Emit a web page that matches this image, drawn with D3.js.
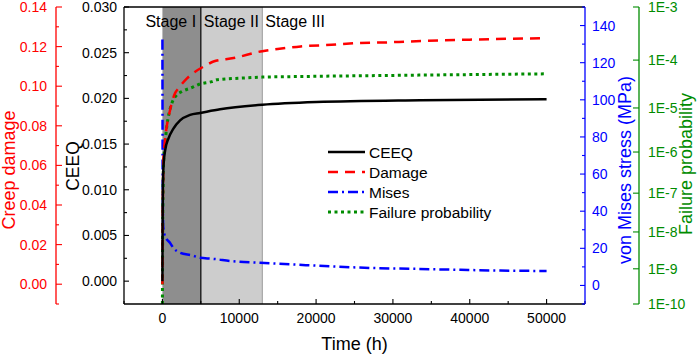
<!DOCTYPE html>
<html><head><meta charset="utf-8">
<script src="https://cdn.jsdelivr.net/npm/d3@7"></script>
<style>body{margin:0;background:#fff}svg{display:block;font-family:"Liberation Sans",Arial,sans-serif}</style>
</head><body><svg id="c" width="699" height="357"></svg>
<script>
// ---- data ----
const ceeqT   = [0, 20, 60, 130, 350, 780, 1430, 2300, 3600, 4900, 7500, 13000, 20000, 33600, 50000];
const ceeqV   = [0, 0.006, 0.0098, 0.0124, 0.0143, 0.0156, 0.0167, 0.0176, 0.0182, 0.0184, 0.0188, 0.0193, 0.0196, 0.0198, 0.0199];
const damT    = [0, 30, 80, 130, 350, 1000, 1650, 2100, 3200, 4000, 5800, 6650, 9260, 13000, 15000, 18000, 22000, 25500, 29000, 32300, 40000, 50000];
const damV    = [0, 0.030, 0.050, 0.063, 0.073, 0.088, 0.0965, 0.099, 0.104, 0.1066, 0.1108, 0.1125, 0.1142, 0.1177, 0.1188, 0.1201, 0.1209, 0.1218, 0.1221, 0.1226, 0.1235, 0.1243];
const misT    = [0, 30, 100, 350, 1000, 1430, 2300, 3830, 4900, 6440, 9200, 12700, 17000, 22300, 28000, 33200, 38800, 44000, 50000];
const misV    = [132.5, 60, 32, 26.4, 22.9, 20.2, 17.6, 16.2, 14.9, 14.4, 13.0, 12.2, 11.3, 10.2, 9.3, 8.9, 8.4, 8.0, 7.8];
const fpT     = [0, 30, 80, 130, 350, 570, 780, 1230, 1880, 2530, 3600, 4900, 6440, 7100, 10150, 13000, 18000, 33600, 50000];
const fpV     = [1e-10, 1e-8, 1e-7, 4.5e-7, 1.6e-6, 3.9e-6, 6.5e-6, 1.27e-5, 1.92e-5, 2.26e-5, 2.65e-5, 3.25e-5, 3.65e-5, 3.97e-5, 4.3e-5, 4.52e-5, 4.65e-5, 4.97e-5, 5.28e-5];
const stages  = [{name:"Stage I", from:0, to:5000}, {name:"Stage II", from:5000, to:13000}, {name:"Stage III", from:13000, to:null}];
const xTicks  = [0, 10000, 20000, 30000, 40000, 50000];
const ceeqTicks = [0, 0.005, 0.010, 0.015, 0.020, 0.025, 0.030];
const damTicks  = [0, 0.02, 0.04, 0.06, 0.08, 0.10, 0.12, 0.14];
const misTicks  = [0, 20, 40, 60, 80, 100, 120, 140];
const fpTicks   = [3, 4, 5, 6, 7, 8, 9, 10]; // exponents: 1E-3 ... 1E-10
const legendItems = ["CEEQ", "Damage", "Mises", "Failure probability"];

// ---- layout ----
const L = 124, R = 585, T = 7, B = 304;
const svg = d3.select("#c");
const x = d3.scaleLinear().domain([-5000, 55000]).range([L, R]);
const yC = d3.scaleLinear().domain([-0.0025, 0.030]).range([B, T]);
const yD = d3.scaleLinear().domain([-0.01, 0.14]).range([B, T]);
const yM = d3.scaleLinear().domain([-10, 150]).range([B, T]);
const yPk = d3.scalePow().exponent(0.59).domain([3, 10]).range([T, B]);
const yP = p => yPk(-Math.log10(p));

const RED = "#ff0000", BLUE = "#0000ff", GREEN = "#008c00";
const fs = 14;

// stage shading
const shadeCol = ["#8e8e8e", "#cdcdcd"];
stages.slice(0, 2).forEach((s, i) => {
  svg.append("rect").attr("x", x(s.from)).attr("y", T).attr("width", x(s.to) - x(s.from)).attr("height", B - T)
    .attr("fill", shadeCol[i]);
});
svg.append("line").attr("x1", x(13000)).attr("x2", x(13000)).attr("y1", T).attr("y2", B).attr("stroke", "#9a9a9a").attr("stroke-width", 1);
svg.append("line").attr("x1", x(5000)).attr("x2", x(5000)).attr("y1", T).attr("y2", B).attr("stroke", "#000").attr("stroke-width", 1.2);
const stageX = [x(0) - 17, x(5000) + 3, x(13000) + 3];
stages.forEach((s, i) => {
  svg.append("text").attr("x", stageX[i]).attr("y", 27).attr("font-size", 16).attr("fill", "#000").text(s.name);
});

// lines
const curve = d3.curveMonotoneX;
function drawLine(ts, vs, ys, color, dash, w) {
  const data = ts.map((t, i) => [t, vs[i]]);
  svg.append("path").datum(data)
    .attr("d", d3.line().x(d => x(d[0])).y(d => ys(d[1])).curve(curve))
    .attr("fill", "none").attr("stroke", color).attr("stroke-width", w)
    .attr("stroke-dasharray", dash);
}
drawLine(misT, misV, yM, BLUE, "10,4,2,4", 2.5);
drawLine(fpT, fpV, yP, GREEN, "3,3.5", 3);
drawLine(damT, damV, yD, RED, "10,7", 2.5);
drawLine(ceeqT, ceeqV, yC, "#000", null, 2.5);

// frame
svg.append("line").attr("x1", L).attr("x2", R).attr("y1", T).attr("y2", T).attr("stroke", "#000").attr("stroke-width", 1.3);
svg.append("line").attr("x1", L).attr("x2", R).attr("y1", B).attr("y2", B).attr("stroke", "#000").attr("stroke-width", 1.3);

// x axis ticks (inward)
const xMinor = d3.range(-5000, 55001, 5000);
xMinor.forEach(v => {
  const major = xTicks.includes(v);
  svg.append("line").attr("x1", x(v)).attr("x2", x(v)).attr("y1", B).attr("y2", B - (major ? 5 : 3)).attr("stroke", "#000").attr("stroke-width", 1.1);
});
xTicks.forEach(v => svg.append("text").attr("x", x(v)).attr("y", 323).attr("text-anchor", "middle").attr("font-size", fs).text(v));
svg.append("text").attr("x", (L + R) / 2).attr("y", 350).attr("text-anchor", "middle").attr("font-size", 18).text("Time (h)");

// left CEEQ axis at frame
svg.append("line").attr("x1", L).attr("x2", L).attr("y1", T).attr("y2", B).attr("stroke", "#000").attr("stroke-width", 1.3);
d3.range(0, 0.03001, 0.0025).forEach((v, i) => {
  svg.append("line").attr("x1", L).attr("x2", L + (i % 2 === 0 ? 5 : 3)).attr("y1", yC(v)).attr("y2", yC(v)).attr("stroke", "#000").attr("stroke-width", 1.1);
});
ceeqTicks.forEach(v => svg.append("text").attr("x", L - 7).attr("y", yC(v) + 5).attr("text-anchor", "end").attr("font-size", fs).text(d3.format(".3f")(v)));
svg.append("text").attr("transform", `translate(79,166) rotate(-90)`).attr("text-anchor", "middle").attr("font-size", 17.5).text("CEEQ");

// red creep damage axis
const AX_D = 56;
svg.append("line").attr("x1", AX_D).attr("x2", AX_D).attr("y1", T).attr("y2", B).attr("stroke", RED).attr("stroke-width", 1.3);
d3.range(-0.01, 0.14001, 0.01).forEach(v => {
  const major = Math.abs(Math.round(v * 100) % 2) === 0;
  svg.append("line").attr("x1", AX_D).attr("x2", AX_D + (major ? 6 : 3)).attr("y1", yD(v)).attr("y2", yD(v)).attr("stroke", RED).attr("stroke-width", 1.1);
});
damTicks.forEach(v => svg.append("text").attr("x", AX_D - 9).attr("y", yD(v) + 5).attr("text-anchor", "end").attr("font-size", fs).attr("fill", RED).text(d3.format(".2f")(v)));
svg.append("text").attr("transform", `translate(15,170) rotate(-90)`).attr("text-anchor", "middle").attr("font-size", 18).attr("fill", RED).text("Creep damage");

// blue Mises axis (right frame)
svg.append("line").attr("x1", R).attr("x2", R).attr("y1", T).attr("y2", B).attr("stroke", BLUE).attr("stroke-width", 1.3);
d3.range(-10, 151, 10).forEach(v => {
  const major = v % 20 === 0;
  svg.append("line").attr("x1", R).attr("x2", R - (major ? 5 : 3)).attr("y1", yM(v)).attr("y2", yM(v)).attr("stroke", BLUE).attr("stroke-width", 1.1);
});
misTicks.forEach(v => svg.append("text").attr("x", R + 7).attr("y", yM(v) + 5).attr("font-size", fs).attr("fill", BLUE).text(v));
svg.append("text").attr("transform", `translate(631,170) rotate(-90)`).attr("text-anchor", "middle").attr("font-size", 18).attr("fill", BLUE).text("von Mises stress (MPa)");

// green failure probability axis
const AX_P = 639;
svg.append("line").attr("x1", AX_P).attr("x2", AX_P).attr("y1", T).attr("y2", B).attr("stroke", GREEN).attr("stroke-width", 1.3);
fpTicks.forEach(k => {
  svg.append("line").attr("x1", AX_P).attr("x2", AX_P - 6).attr("y1", yPk(k)).attr("y2", yPk(k)).attr("stroke", GREEN).attr("stroke-width", 1.1);
  svg.append("text").attr("x", AX_P + 9).attr("y", yPk(k) + 5).attr("font-size", fs).attr("fill", GREEN).text("1E-" + k);
});
svg.append("text").attr("transform", `translate(692,164) rotate(-90)`).attr("text-anchor", "middle").attr("font-size", 18).attr("fill", GREEN).text("Failure probability");

// legend
const legStyles = [["#000", null], [RED, "10,7"], [BLUE, "10,4,2,4"], [GREEN, "3,3.5"]];
legendItems.forEach((name, i) => {
  const yy = 152 + i * 20;
  svg.append("line").attr("x1", 328).attr("x2", 365).attr("y1", yy).attr("y2", yy)
    .attr("stroke", legStyles[i][0]).attr("stroke-width", i === 3 ? 3 : 2.5).attr("stroke-dasharray", legStyles[i][1]);
  svg.append("text").attr("x", 369).attr("y", yy + 5.5).attr("font-size", 15.5).text(name);
});
</script></body></html>
